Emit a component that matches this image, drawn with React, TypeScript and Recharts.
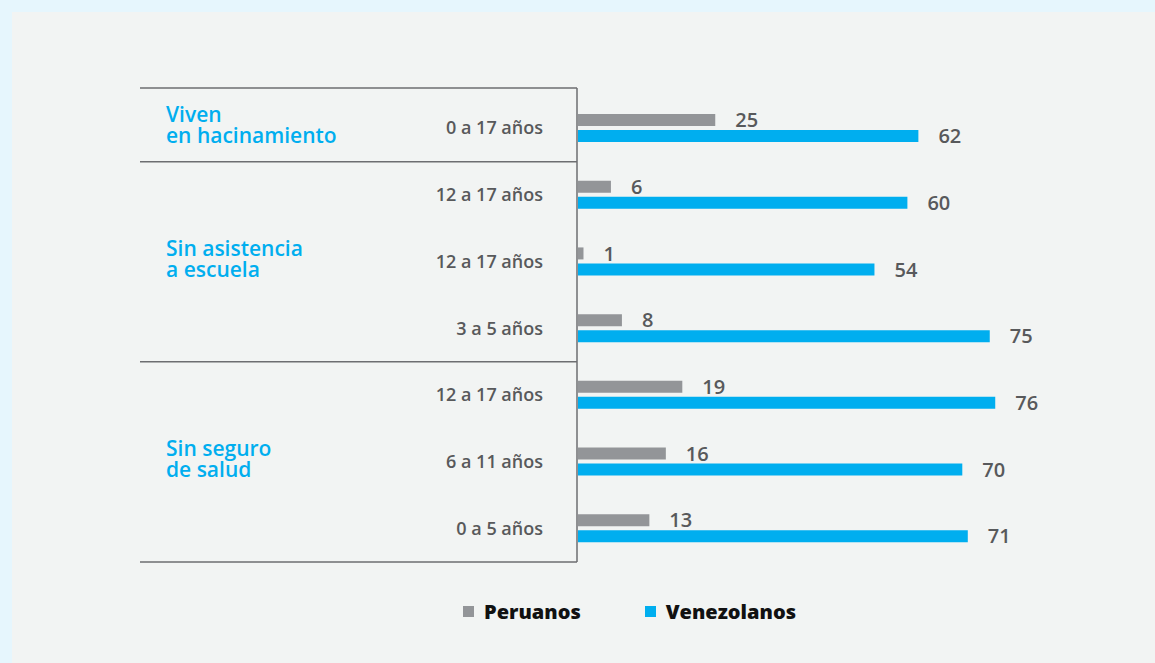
import React from 'react';
import { BarChart, Bar, XAxis, YAxis, LabelList } from 'recharts';

// rows, top to bottom
const categories = [
  '0 a 17 años',
  '12 a 17 años',
  '12 a 17 años',
  '3 a 5 años',
  '12 a 17 años',
  '6 a 11 años',
  '0 a 5 años',
];
const peruanos = [25, 6, 1, 8, 19, 16, 13];
const venezolanos = [62, 60, 54, 75, 76, 70, 71];

// group label lines + first/last row index
const groupLabels = [
  ['Viven', 'en hacinamiento'],
  ['Sin asistencia', 'a escuela'],
  ['Sin seguro', 'de salud'],
];
const groupStart = [0, 1, 4];
const groupEnd = [0, 3, 6];

const seriesNames = ['Peruanos', 'Venezolanos'];
const COLORS = ['#939598', '#00aeef'];

const W = 1155;
const H = 663;
const MARGIN = { top: 95, right: 28, bottom: 101, left: 138 };
const AXIS_W = 440;
const BAND = (H - MARGIN.top - MARGIN.bottom) / categories.length;
const HALF = BAND / 2;
const AXIS_X = MARGIN.left + AXIS_W;
const TABLE_LEFT = 140;
const FONT = '"Open Sans", sans-serif';
const LINE = '#6d6e71';
const TEXT = '#58595b';

const data = categories.map((c, i) => ({
  row: i,
  label: c,
  peruanos: peruanos[i],
  venezolanos: venezolanos[i],
}));

const RowTick = (props: any) => {
  const { y, payload } = props;
  const i = Number(payload.value);
  const g = groupStart.indexOf(i);
  const isEnd = groupEnd.includes(i);
  const parts: React.ReactNode[] = [];

  if (i === 0) {
    parts.push(
      <line key="top" x1={TABLE_LEFT} x2={AXIS_X - 1} y1={y - HALF - 7} y2={y - HALF - 7} stroke={LINE} strokeWidth={1.5} />,
      <line key="vert" x1={AXIS_X - 1} x2={AXIS_X - 1} y1={y - HALF - 7} y2={y - HALF + BAND * categories.length} stroke={LINE} strokeWidth={1.5} />
    );
  }
  if (isEnd) {
    parts.push(
      <line key="sep" x1={TABLE_LEFT} x2={AXIS_X - 1} y1={y + HALF} y2={y + HALF} stroke={LINE} strokeWidth={1.5} />
    );
  }
  if (g >= 0) {
    const mid = y + ((groupEnd[g] - groupStart[g]) * BAND) / 2 - 4;
    parts.push(
      <text key="grp" fill="#00aeef" fontFamily={FONT} fontSize={21} fontWeight={600}>
        <tspan x={166} y={mid - 2}>{groupLabels[g][0]}</tspan>
        <tspan x={166} y={mid + 19}>{groupLabels[g][1]}</tspan>
      </text>
    );
  }
  parts.push(
    <text key="cat" x={543} y={y} dy={6} textAnchor="end" fill={TEXT} fontFamily={FONT} fontSize={18} fontWeight={600}>
      {categories[i]}
    </text>
  );
  return <g>{parts}</g>;
};

const LegendBox = () => (
  <div
    style={{
      position: 'absolute',
      left: 463,
      top: 598,
      display: 'flex',
      alignItems: 'center',
      fontFamily: FONT,
      fontSize: 20,
      fontWeight: 800,
      color: '#111',
    }}
  >
    {seriesNames.map((n, i) => (
      <div key={n} style={{ display: 'flex', alignItems: 'center', marginRight: 64 }}>
        <span style={{ width: 11, height: 11, background: COLORS[i], marginRight: 10, display: 'inline-block' }} />
        {n}
      </div>
    ))}
  </div>
);

export default function App() {
  return (
    <div style={{ position: 'absolute', left: 0, top: 0, width: W, height: H, background: '#e6f6fd' }}>
      <div style={{ position: 'absolute', left: 12, top: 12, width: W - 12, height: H - 12, background: '#f2f4f3' }} />
      <div style={{ position: 'absolute', left: 0, top: 0 }}>
        <BarChart width={W} height={H} data={data} layout="vertical" margin={MARGIN} barSize={12} barGap={4}>
          <XAxis type="number" domain={[0, 100]} hide />
          <YAxis
            type="category"
            dataKey="row"
            width={AXIS_W}
            axisLine={false}
            tickLine={false}
            interval={0}
            tick={<RowTick />}
          />
          <Bar dataKey="peruanos" name={seriesNames[0]} fill={COLORS[0]} isAnimationActive={false}>
            <LabelList dataKey="peruanos" position="right" offset={20} fill={TEXT} fontFamily={FONT} fontSize={20} fontWeight={600} />
          </Bar>
          <Bar dataKey="venezolanos" name={seriesNames[1]} fill={COLORS[1]} isAnimationActive={false}>
            <LabelList dataKey="venezolanos" position="right" offset={20} fill={TEXT} fontFamily={FONT} fontSize={20} fontWeight={600} />
          </Bar>
        </BarChart>
      </div>
      <LegendBox />
    </div>
  );
}
